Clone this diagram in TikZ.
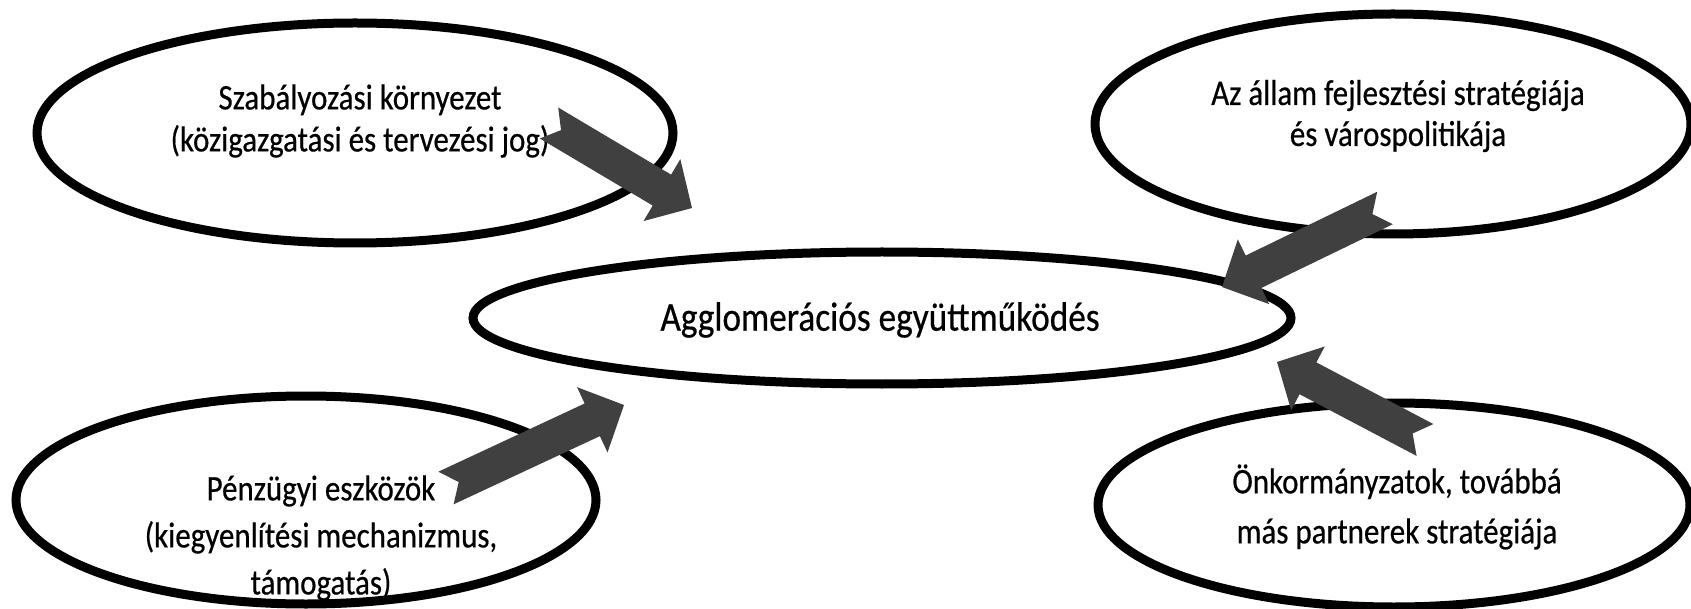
\documentclass[tikz,border=0pt]{standalone}
\usepackage{fontspec}
\setmainfont{Carlito}[FakeStretch=0.86, FakeBold=0.5]
\usetikzlibrary{shapes.geometric,calc}
\definecolor{arrowgray}{HTML}{404040}
\tikzset{
  bubble/.style={ellipse, draw=black, line width=9pt, fill=white, inner sep=0pt},
  caption/.style={align=center, font=\fontsize{36}{#1}\selectfont, inner sep=0pt},
  caption/.default=45,
  bigcaption/.style={align=center, font=\fontsize{41}{46}\selectfont, inner sep=0pt},
  blockarrow/.style={fill=arrowgray, draw=none},
}
\def\aw{18pt}
\def\ah{36pt}
\def\ahl{35pt}
\def\an{14pt}
\newcommand\notchedarrow[2]{%
  \fill[blockarrow]
    ($(#1)!\aw!90:(#2)$) --
    ($(#2)!\ahl!(#1)!\aw!90:(#2)$) --
    ($(#2)!\ahl!(#1)!\ah!90:(#2)$) --
    (#2) --
    ($(#2)!\ahl!(#1)!\ah!-90:(#2)$) --
    ($(#2)!\ahl!(#1)!\aw!-90:(#2)$) --
    ($(#1)!\aw!-90:(#2)$) --
    ($(#1)!\an!(#2)$) -- cycle;
}
\begin{document}
\begin{tikzpicture}[x=1pt,y=-1pt]
\fill[white] (0,0) rectangle (1691,609);
\useasboundingbox (0,0) rectangle (1691,609);

% ellipses
\node[bubble, minimum width=636pt, minimum height=220pt] (reg) at (355,133) {};
\node[bubble, minimum width=596pt, minimum height=220pt] (state) at (1393,124) {};
\node[bubble, minimum width=818pt, minimum height=132pt] (coop) at (882,318) {};
\node[bubble, minimum width=580pt, minimum height=208pt] (fin) at (306,500) {};
\node[bubble, minimum width=592pt, minimum height=204pt] (local) at (1394,505) {};

% texts
\node[caption=42] (regtext) at (360,121) {Szabályozási környezet\\(közigazgatási és tervezési jog)};
\node[caption=41] (statetext) at (1398,116) {Az állam fejlesztési stratégiája\\és várospolitikája};
\node[bigcaption] (cooptext) at (880,320) {Agglomerációs együttműködés};
\node[caption=47] (fintext) at (321,538) {Pénzügyi eszközök\\(kiegyenlítési mechanizmus,\\támogatás)};
\node[caption=50] (localtext) at (1397,507) {Önkormányzatok, továbbá\\más partnerek stratégiája};

% arrow ends
\coordinate (a1t) at (549,123); \coordinate (a1h) at (692,208);
\coordinate (a2t) at (1385,208); \coordinate (a2h) at (1222,287);
\coordinate (a3t) at (446,488); \coordinate (a3h) at (624,405);
\coordinate (a4t) at (1425,440); \coordinate (a4h) at (1277,362);

\notchedarrow{a1t}{a1h}
\notchedarrow{a2t}{a2h}
\notchedarrow{a3t}{a3h}
\notchedarrow{a4t}{a4h}
\end{tikzpicture}
\end{document}
